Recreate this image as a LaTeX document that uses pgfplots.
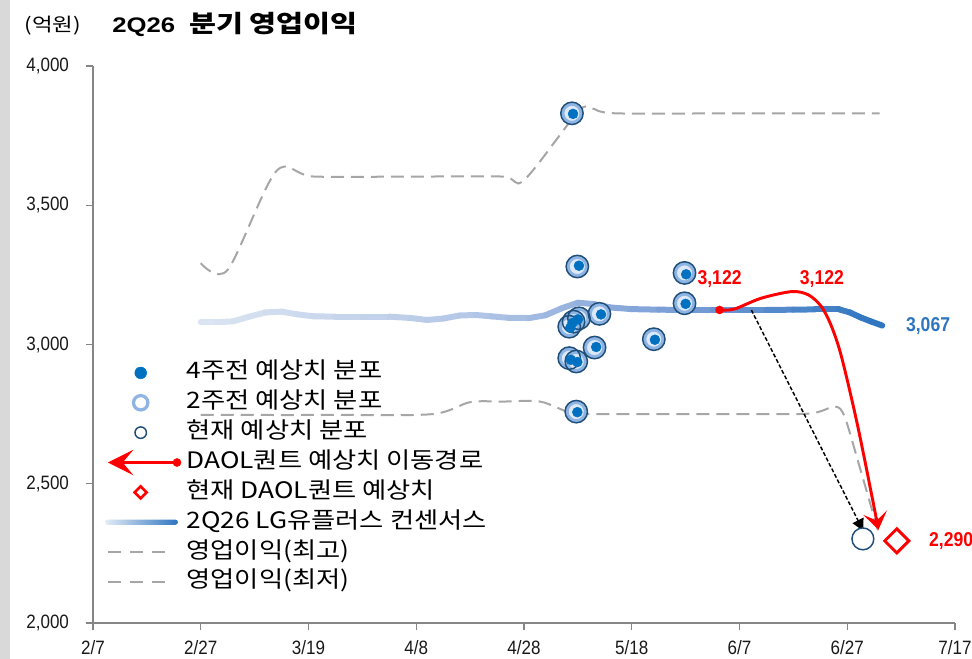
\documentclass[border=0pt]{standalone}
\usepackage{pgfplots}
\pgfplotsset{compat=1.18}
\usepackage{pgfplotstable}
\usepackage{fontspec}
\setmainfont{Liberation Sans}
\newfontfamily\kr{Noto Sans CJK KR}
\usetikzlibrary{arrows.meta}
\definecolor{cA}{HTML}{0070C0}
\definecolor{cB}{HTML}{8EB4E3}
\definecolor{cBf}{HTML}{DDE9F7}
\definecolor{cC}{HTML}{1F4E79}
\definecolor{dgray}{HTML}{A6A6A6}
\definecolor{axgray}{HTML}{868686}
\definecolor{cons}{HTML}{2E75C0}
\definecolor{consl}{HTML}{E4ECF6}
\definecolor{lred}{HTML}{FF0000}
\newcommand\nar[1]{\scalebox{0.88}[1]{#1}}
\newcommand\tkl[1]{\scalebox{0.88}[1]{\fontsize{14.5}{17}\selectfont\color{black!90}#1}}
\newcommand\wk[1]{\scalebox{1.16}[1]{\kr #1}}

% 2주전 / 현재 distribution (day from 2/7, 억원)
\pgfplotstableread{
x y
88.9 3830
89.9 3280
109.8 3257
109.8 3148
94.0 3110
90.2 3094
89.2 3082
88.4 3064
93.1 2989
88.4 2951
89.7 2939
104.1 3019
89.7 2759
}\ptsB
% 4주전 distribution
\pgfplotstableread{
x y
89.1 3828
90.2 3283
110.1 3252
110.0 3146
94.3 3108
90.0 3090
89.0 3077
88.6 3060
93.4 2991
88.7 2945
89.9 2937
104.3 3017
89.9 2757
}\ptsA
% consensus
\pgfplotstableread{
x y
20 3080
23 3080
26 3083
29 3100
32 3115
35 3118
38 3108
41 3101
45 3100
50 3100
55 3100
59 3095
62 3088
65 3093
68 3104
71 3106
74 3101
77 3096
81 3095
84 3105
87 3130
90 3150
93 3145
96 3133
100 3127
105 3125
110 3124
115 3124
120 3124
125 3124
130 3125
134 3126
138.5 3126
140.5 3115
142.5 3097
144.5 3082
146.5 3068
}\cons
% 영업이익(최고)
\pgfplotstableread{
x y
20 3292
25 3268
34 3622
41 3603
60 3603
76 3603
80 3590
90 3835
92.5 3848
97 3830
120 3830
146 3830
}\hi
% 영업이익(최저)
\pgfplotstableread{
x y
20 2747
45 2747
63 2750
70 2793
76 2795
83 2795
89 2753
95 2750
120 2750
133 2752
137.7 2777
139.5 2741
142.1 2574
146 2311
}\lo
% DAOL 퀀트 이동경로
\pgfplotstableread{
x y
116.3 3124
119 3127
124 3166
129.7 3190
132.8 3178
135.2 3136
137.1 3064
139 2951
142.1 2693
145.8 2335
}\daol

\begin{document}
\begin{tikzpicture}
\begin{axis}[
  name=ax,
  scale only axis, width=646.5pt, height=417.75pt,
  xmin=0, xmax=160, ymin=2000, ymax=4000,
  axis x line*=bottom, axis y line*=left,
  axis line style={axgray, line width=1.1pt, -},
  xtick={0,20,...,160},
  xticklabels={\tkl{2/7},\tkl{2/27},\tkl{3/19},\tkl{4/8},\tkl{4/28},\tkl{5/18},\tkl{6/7},\tkl{6/27},\tkl{7/17}},
  ytick={2000,2500,3000,3500,4000},
  yticklabels={\tkl{2,000},\tkl{2,500},\tkl{3,000},\tkl{3,500},\tkl{4,000}},
  tick align=outside, major tick length=5.5pt,
  tick style={axgray, line width=1pt},
  yticklabel style={xshift=-9pt},
  xticklabel style={yshift=-4pt},
  clip=false,
  colormap={consmap}{rgb255(0cm)=(220,229,242) rgb255(4cm)=(180,199,231) rgb255(7cm)=(122,158,215) rgb255(10cm)=(46,117,192)},
  legend style={at={(0.0139,0.4758)}, anchor=north west, draw=none, fill=none,
    inner sep=0pt, outer sep=0pt, row sep=0pt,
    font=\fontsize{17}{20}\selectfont,
    nodes={text height=12.5pt, text depth=3.5pt, inner ysep=3.2pt, inner xsep=4pt}},
  legend cell align=left,
]
\addlegendimage{legend image code/.code={\path[draw=none,fill=none] (0pt,0pt) rectangle (55pt,0pt); \fill[cA] (26.8pt,0pt) circle (4.4pt);}}
\addlegendentry{\wk{4주전 예상치 분포}}
\addlegendimage{legend image code/.code={\path[draw=none,fill=none] (0pt,0pt) rectangle (55pt,0pt); \draw[cB, line width=2.4pt, fill=white] (26.8pt,0pt) circle (5.4pt);}}
\addlegendentry{\wk{2주전 예상치 분포}}
\addlegendimage{legend image code/.code={\path[draw=none,fill=none] (0pt,0pt) rectangle (55pt,0pt); \draw[cC, line width=1.1pt, fill=white] (26.8pt,0pt) circle (4.3pt);}}
\addlegendentry{\wk{현재 예상치 분포}}
\addlegendimage{legend image code/.code={\path[draw=none,fill=none] (0pt,0pt) rectangle (55pt,0pt); \draw[lred, line width=2pt, {Stealth[length=19pt,width=19pt,inset=8pt]}-] (2.25pt,0pt) -- (54pt,0pt); \fill[lred] (54pt,0pt) circle (3pt);}}
\addlegendentry{\wk{DAOL퀀트 예상치 이동경로}}
\addlegendimage{legend image code/.code={\path[draw=none,fill=none] (0pt,0pt) rectangle (55pt,0pt); \draw[lred, line width=2pt, fill=white] (26.8pt,-4.5pt) -- (31.3pt,0pt) -- (26.8pt,4.5pt) -- (22.3pt,0pt) -- cycle;}}
\addlegendentry{\wk{현재 DAOL퀀트 예상치}}
\addlegendimage{legend image code/.code={\path[draw=none,fill=none] (0pt,0pt) rectangle (55pt,0pt); \shade[draw=none, left color=consl, right color=cons, rounded corners=1.9pt] (0pt,-1.9pt) rectangle (54.75pt,1.9pt);}}
\addlegendentry{\wk{2Q26 LG유플러스 컨센서스}}
\addlegendimage{legend image code/.code={\path[draw=none,fill=none] (0pt,0pt) rectangle (55pt,0pt); \draw[dgray, line width=1.5pt, dash pattern=on 9.75pt off 6.75pt] (2.25pt,0pt) -- (45pt,0pt);}}
\addlegendentry{\wk{영업이익(최고)}}
\addlegendimage{legend image code/.code={\path[draw=none,fill=none] (0pt,0pt) rectangle (55pt,0pt); \draw[dgray, line width=1.5pt, dash pattern=on 9.75pt off 6.75pt] (2.25pt,0pt) -- (45pt,0pt);}}
\addlegendentry{\wk{영업이익(최저)}}

% consensus (gradient line)
\addplot[mesh, point meta=x, line width=4.5pt, line cap=round, line join=round, forget plot] table {\cons};
% distribution markers
\addplot[only marks, mark=*, mark size=7pt, mark options={draw=cB, fill=cBf, line width=2.6pt}, forget plot] table {\ptsB};
\addplot[only marks, mark=o, mark size=8.4pt, mark options={draw=cC, line width=1.1pt}, forget plot] table {\ptsB};
\addplot[only marks, mark=*, mark size=3.7pt, mark options={draw=cA, fill=cA}, forget plot] table {\ptsA};
% high / low
\addplot[dgray, line width=1.5pt, dash pattern=on 9.75pt off 5.25pt, smooth, forget plot] table {\hi};
\addplot[dgray, line width=1.5pt, dash pattern=on 9.75pt off 5.25pt, smooth, forget plot] table {\lo};
% DAOL path
\addplot[lred, line width=2.2pt, smooth, -{Stealth[length=13pt,width=18pt,inset=6pt]}, forget plot] table {\daol};
\addplot[only marks, mark=*, mark size=3pt, mark options={draw=lred, fill=lred}, forget plot] coordinates {(116.3,3124)};
% move arrow
\addplot[black, line width=1.1pt, dash pattern=on 3pt off 1.6pt, -{Triangle[length=9pt,width=9pt]}, forget plot] coordinates {(122.2,3124) (143,2330)};
% current circle and current DAOL estimate
\addplot[only marks, mark=*, mark size=8.2pt, mark options={draw=cC, fill=white, line width=1.1pt}, forget plot] coordinates {(142.9,2302)};
\addplot[only marks, mark=square*, mark size=6.4pt, mark options={draw=lred, fill=white, line width=2.2pt, rotate=45}, forget plot] coordinates {(149.2,2295)};

\node[text=lred, font=\bfseries\fontsize{15}{18}\selectfont] at (axis cs:116.3,3235) {\nar{3,122}};
\node[text=lred, font=\bfseries\fontsize{15}{18}\selectfont] at (axis cs:135.3,3235) {\nar{3,122}};
\node[text=cons, font=\bfseries\fontsize{15}{18}\selectfont] at (axis cs:155,3067) {\nar{3,067}};
\node[text=lred, font=\bfseries\fontsize{15}{18}\selectfont] at (axis cs:159.3,2295) {\nar{2,290}};

\node[anchor=west, inner sep=0pt, xshift=-51.5pt, yshift=30pt] at (rel axis cs:0,1) {\scalebox{1.2}[1]{\kr\fontsize{14}{16}\selectfont (억원)}};
\node[anchor=west, inner sep=0pt, xshift=14.25pt, yshift=31.5pt] at (rel axis cs:0,1) {\scalebox{1.22}[1]{\fontsize{15.8}{18}\selectfont\bfseries 2Q26\hspace{0.55em}{\kr\fontsize{18}{20}\selectfont 분기 영업이익}}};
\end{axis}
\fill[black!15] ([shift={(-69.75pt,-27pt)}]ax.south west) rectangle ([shift={(-62.5pt,49.5pt)}]ax.north west);
\pgfresetboundingbox
\path ([shift={(-69.75pt,-27pt)}]ax.south west) rectangle ([shift={(12.75pt,49.5pt)}]ax.north east);
\end{tikzpicture}
\end{document}
